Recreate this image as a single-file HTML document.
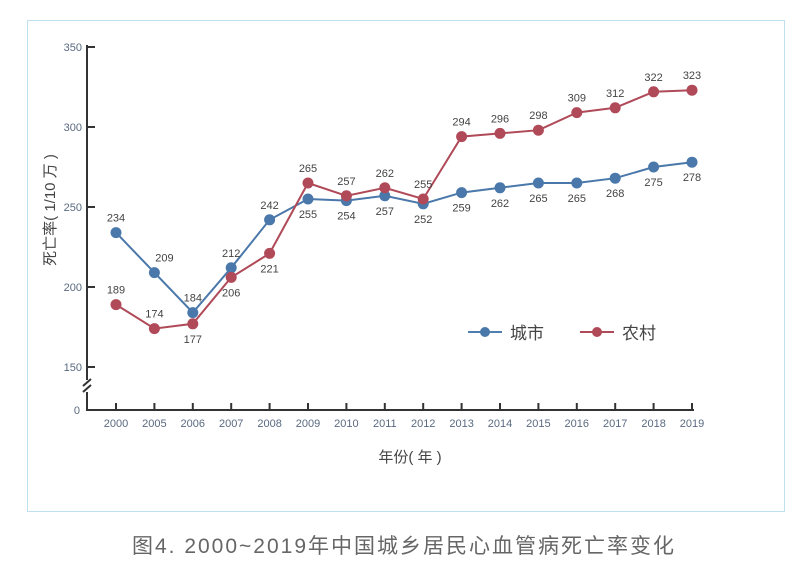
<!DOCTYPE html>
<html><head><meta charset="utf-8"><style>
body{margin:0;background:#fff;width:800px;height:571px;overflow:hidden;font-family:"Liberation Sans","Noto Sans CJK SC",sans-serif}
</style></head><body>
<svg width="800" height="571" xmlns="http://www.w3.org/2000/svg">
<rect x="27.5" y="20.5" width="757" height="491" fill="#fff" stroke="#bfe0ee"/>
<g id="axes"></g>
<g id="marks"></g>
<g>
<g><line x1="468" y1="332" x2="502" y2="332" stroke="#4f7fb0" stroke-width="2"/><circle cx="485" cy="332" r="5" fill="#4a78aa"/><text x="510" y="339" font-size="17" fill="#444">城市</text></g>
<g><line x1="580" y1="332" x2="614" y2="332" stroke="#b04a58" stroke-width="2"/><circle cx="597" cy="332" r="5" fill="#b04a58"/><text x="622" y="339" font-size="17" fill="#444">农村</text></g>
</g>
<text x="55" y="210" font-size="15" fill="#444" transform="rotate(-90 55 210)" text-anchor="middle">死亡率( 1/10 万 )</text>
<text x="410" y="462" font-size="15" fill="#444" text-anchor="middle">年份( 年 )</text>
<text x="404" y="553" font-size="21" fill="#666" text-anchor="middle" letter-spacing="2">图4. 2000~2019年中国城乡居民心血管病死亡率变化</text>
</svg>
<script>
const categories=["2000","2005","2006","2007","2008","2009","2010","2011","2012","2013","2014","2015","2016","2017","2018","2019"];
const cityValues=[234,209,184,212,242,255,254,257,252,259,262,265,265,268,275,278];
const ruralValues=[189,174,177,206,221,265,257,262,255,294,296,298,309,312,322,323];
const citySide=["up","up","up","up","up","down","down","down","down","down","down","down","down","down","down","down"];
const ruralSide=["up","up","down","down","down","up","up","up","up","up","up","up","up","up","up","up"];
const yTicks=[150,200,250,300,350];
const NS="http://www.w3.org/2000/svg";
const x=i=>116+i*38.4;
const y=v=>47+(350-v)*1.6;
function mk(tag,attrs,parent,txt){const e=document.createElementNS(NS,tag);for(const k in attrs)e.setAttribute(k,attrs[k]);if(txt!==undefined)e.textContent=txt;parent.appendChild(e);return e;}
const ax=document.getElementById('axes');
let e=mk('path',{d:"M87 45 V380 M83 386 L91 379 M83 392 L91 385 M87 392 V410 H694",fill:"none",stroke:"#333","stroke-width":2},ax);

yTicks.forEach(t=>{const l=mk('line',{x1:87,x2:95,y1:y(t),y2:y(t),stroke:"#333","stroke-width":2},ax);

const tx=mk('text',{x:82,y:y(t)+4,"font-size":11,fill:"#5a6a80","text-anchor":"end"},ax,t);
});
const z=mk('text',{x:80,y:414,"font-size":11,fill:"#5a6a80","text-anchor":"end"},ax,"0");

categories.forEach((c,i)=>{const l=mk('line',{x1:x(i),x2:x(i),y1:403,y2:410,stroke:"#333","stroke-width":2},ax);

const tx=mk('text',{x:x(i),y:427,"font-size":11,fill:"#5a6a80","text-anchor":"middle"},ax,c);
});
const mg=document.getElementById('marks');
function series(vals,sides,color,name){
const g=mk('g',{},mg);
const p=mk('polyline',{points:vals.map((v,i)=>x(i)+","+y(v)).join(" "),fill:"none",stroke:color,"stroke-width":2},g);

vals.forEach((v,i)=>{const c=mk('circle',{cx:x(i),cy:y(v),r:5.5,fill:color},g);

const t=mk('text',{x:x(i)+(i==1&&name=='city'?10:0),y:y(v)+(sides[i]=="up"?-11:19),"font-size":11,fill:"#444","text-anchor":"middle"},g,v);
});}
series(cityValues,citySide,"#4a78aa","city");
series(ruralValues,ruralSide,"#b04a58","rural");
</script>
</body></html>
